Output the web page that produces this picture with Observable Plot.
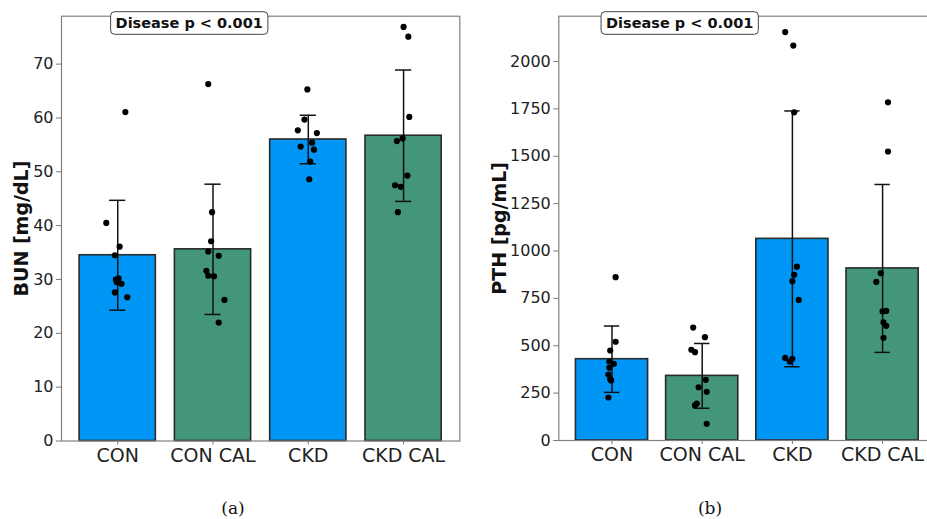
<!DOCTYPE html>
<html><head><meta charset="utf-8">
<script src="https://cdn.jsdelivr.net/npm/d3@7"></script>
<script src="https://cdn.jsdelivr.net/npm/@observablehq/plot@0.6"></script>
<style>
html,body{margin:0;padding:0;background:#fff;overflow:hidden;width:927px;height:519px;}
#wrap{position:relative;width:927px;height:519px;overflow:hidden;}
.panel{position:absolute;top:0;}
.cap{position:absolute;font-family:"DejaVu Serif","Liberation Serif",serif;font-size:17px;transform:translateX(-50%);color:#111;}
</style></head><body><div id="wrap"></div>
<script>
const groups = ["CON", "CON CAL", "CKD", "CKD CAL"];
const barColors = ["#0096F5", "#43967A", "#0096F5", "#43967A"];
const annotation = "Disease p < 0.001";

// Panel (a): BUN
const bunLabel = "BUN [mg/dL]";
const bunTicks = [0, 10, 20, 30, 40, 50, 60, 70];
const bunMean = [34.5, 35.6, 56.0, 56.7];
const bunSd = [10.2, 12.1, 4.5, 12.2];
const bunValues = [
  [61.1, 40.5, 36.1, 34.5, 30.2, 30.0, 29.5, 29.2, 27.6, 26.7],
  [66.3, 42.5, 37.1, 35.2, 34.4, 31.6, 30.7, 30.6, 26.2, 22.0],
  [65.3, 59.7, 57.7, 57.2, 55.4, 54.7, 54.1, 51.9, 48.6],
  [76.9, 75.1, 60.2, 56.2, 55.7, 49.3, 47.5, 47.2, 42.5]
];
const bunJitter = [
  [0.08, -0.12, 0.02, -0.03, 0.01, -0.02, -0.01, 0.04, -0.03, 0.10],
  [-0.05, -0.01, -0.02, -0.05, 0.06, -0.07, -0.05, 0.01, 0.12, 0.06],
  [-0.01, -0.04, -0.11, 0.09, 0.04, -0.08, 0.06, 0.02, 0.01],
  [0.0, 0.05, 0.06, -0.01, -0.07, 0.04, -0.09, -0.03, -0.06]
];

// Panel (b): PTH
const pthLabel = "PTH [pg/mL]";
const pthTicks = [0, 250, 500, 750, 1000, 1250, 1500, 1750, 2000];
const pthMean = [429, 341, 1064, 908];
const pthSd = [175, 171, 675, 443];
const pthValues = [
  [862, 521, 475, 417, 405, 384, 348, 323, 317, 227],
  [596, 545, 479, 466, 320, 281, 257, 195, 185, 88],
  [2155, 2084, 1732, 917, 874, 841, 742, 436, 431, 417],
  [1785, 1525, 883, 837, 681, 684, 623, 605, 542]
];
const pthJitter = [
  [0.04, 0.04, -0.02, -0.03, 0.02, -0.03, -0.04, -0.02, -0.01, -0.04],
  [-0.10, 0.03, -0.12, -0.08, 0.04, -0.04, 0.05, -0.06, -0.08, 0.05],
  [-0.08, 0.01, 0.02, 0.05, 0.02, 0.0, 0.07, -0.08, 0.0, -0.03],
  [0.06, 0.06, -0.02, -0.07, 0.0, 0.04, 0.01, 0.04, 0.01]
];

function panel(cfg) {
  const bars = groups.map((g, i) => ({i, g, mean: cfg.mean[i], sd: cfg.sd[i], color: barColors[i]}));
  const pts = [];
  cfg.values.forEach((arr, i) => arr.forEach((v, k) => pts.push({i, v, j: cfg.jitter[i][k]})));
  const cap = 0.085;
  const svg = Plot.plot({
    width: cfg.width, height: cfg.height,
    marginLeft: cfg.ml, marginRight: cfg.mr, marginTop: cfg.mt, marginBottom: cfg.mb,
    style: {fontFamily: "DejaVu Sans, sans-serif", color: "#222", background: "white"},
    x: {domain: [-0.59, 3.59]},
    y: {domain: [0, cfg.ymax]},
    color: {type: "identity"},
    marks: [
      Plot.rectY(bars, {x1: d => d.i - 0.4, x2: d => d.i + 0.4, y1: 0, y2: "mean", fill: "color", stroke: "#2a2a2a", strokeWidth: 1.6}),
      Plot.ruleX(bars, {x: "i", y1: d => d.mean - d.sd, y2: d => d.mean + d.sd, stroke: "#111", strokeWidth: 1.5}),
      Plot.ruleY(bars, {y: d => d.mean + d.sd, x1: d => d.i - cap, x2: d => d.i + cap, stroke: "#111", strokeWidth: 1.5}),
      Plot.ruleY(bars, {y: d => d.mean - d.sd, x1: d => d.i - cap, x2: d => d.i + cap, stroke: "#111", strokeWidth: 1.5}),
      Plot.dot(pts, {x: d => d.i + d.j, y: "v", r: 3.1, fill: "black", stroke: "none"}),
      Plot.axisX({ticks: [0, 1, 2, 3], tickFormat: i => groups[i], fontSize: 19, tickSize: 4, tickPadding: 3, label: null, stroke: "#777"}),
      Plot.axisY({ticks: cfg.ticks, tickFormat: d => String(d), fontSize: 16, tickSize: 5, tickPadding: 3, label: null, stroke: "#777"}),
      Plot.frame({stroke: "#808080", strokeWidth: 1.2}),
      Plot.text([cfg.label], {text: d => d, frameAnchor: "left", textAnchor: "middle", rotate: -90, dx: cfg.labelDx, fontSize: 19, fontWeight: "bold", fill: "#111"})
    ]
  });
  svg.style.maxWidth = "none";
  svg.style.overflow = "visible";
  const fw = cfg.width - cfg.ml - cfg.mr;
  const cx = cfg.ml + 0.322 * fw;
  const cy = 23;
  const g = d3.select(svg).append("g");
  const rect = g.append("rect");
  const t = g.append("text").attr("x", cx).attr("y", cy).attr("text-anchor", "middle")
    .attr("dominant-baseline", "central").attr("font-family", "DejaVu Sans, sans-serif")
    .attr("font-weight", "bold").attr("font-size", 14.5).attr("fill", "#111").text(annotation);
  const div = document.createElement("div");
  div.className = "panel";
  div.style.left = cfg.left + "px";
  div.appendChild(svg);
  document.getElementById("wrap").appendChild(div);
  const bb = t.node().getBBox();
  rect.attr("x", bb.x - 5).attr("y", cy - 11.3).attr("width", bb.width + 10).attr("height", 22.6)
    .attr("rx", 4).attr("fill", "white").attr("stroke", "#444").attr("stroke-width", 1);
}

panel({left: 0, width: 470, height: 480, ml: 61, mr: 10.7, mt: 15.7, mb: 39.5, ymax: 78.9,
  ticks: bunTicks, mean: bunMean, sd: bunSd, values: bunValues, jitter: bunJitter, label: bunLabel, labelDx: -40});
panel({left: 470, width: 480, height: 480, ml: 88.3, mr: 14.7, mt: 15.7, mb: 40, ymax: 2239,
  ticks: pthTicks, mean: pthMean, sd: pthSd, values: pthValues, jitter: pthJitter, label: pthLabel, labelDx: -59});

const caps = [["(a)", 233], ["(b)", 710]];
caps.forEach(([s, x]) => {
  const d = document.createElement("div");
  d.className = "cap"; d.style.left = x + "px"; d.style.top = "498px"; d.textContent = s;
  document.getElementById("wrap").appendChild(d);
});
</script></body></html>
